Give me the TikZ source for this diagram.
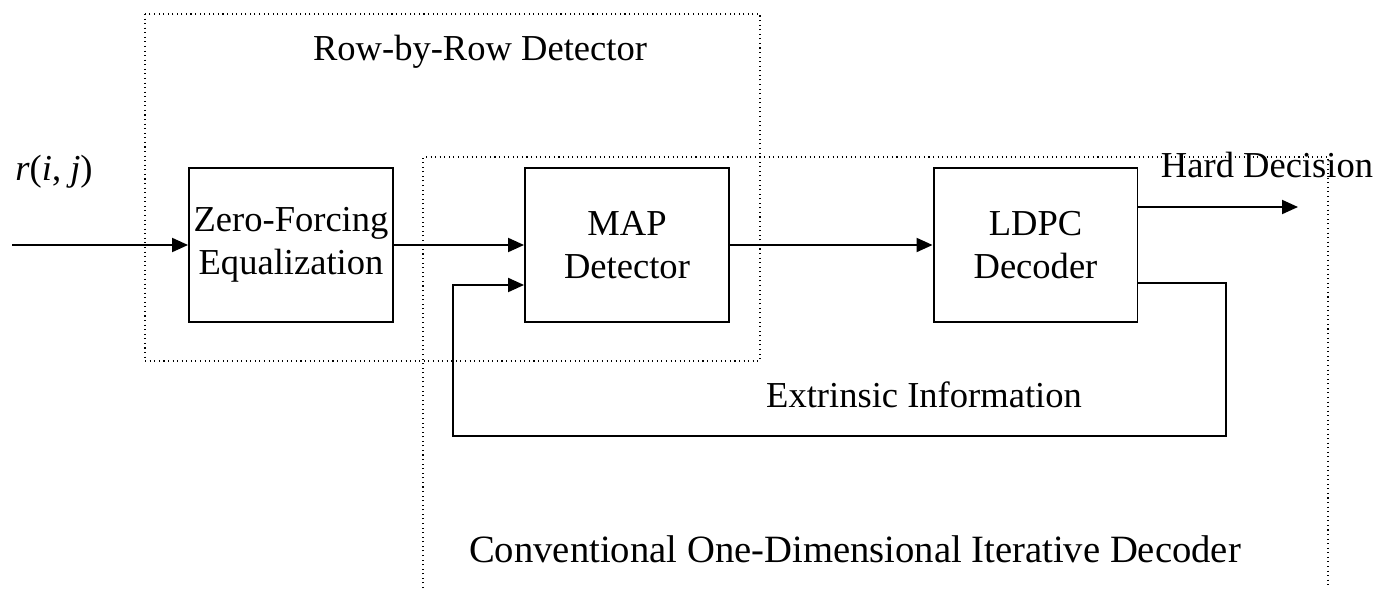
\documentclass[tikz,border=0pt]{standalone}
\usepackage{fontspec}
\setmainfont{Liberation Serif}
\usetikzlibrary{arrows.meta}
\tikzset{
    block/.style = {draw, line width = 1.1pt, minimum width = 4.08cm, minimum height = 3.08cm, align = center, inner sep = 0pt},
    link/.style = {line width = 1.1pt, -{Triangle[length = 0.32cm, width = 0.28cm]}},
    group/.style = {dotted, line width = 0.6pt}
}
\begin{document}
\begin{tikzpicture}[x = 0.02cm, y = -0.02cm, font = \fontsize{20.8}{24.5}\selectfont]
        \useasboundingbox (0, 0) rectangle (1378, 588);
        % detector groups
        \draw [group] (145, 14) rectangle (760, 361);
        \draw [group] (423, 588) -- (423, 157) -- (1328, 157) -- (1328, 588);
        \node (rowlabel) at (480, 52) {Row-by-Row Detector};
        \node [font = \fontsize{22}{26}\selectfont] (convlabel) at (855, 549) {Conventional One-Dimensional Iterative Decoder};
        % blocks
        \node [block] (zf) at (291, 245) {Zero-Forcing\\Equalization};
        \node [block] (map) at (627, 245) {MAP\\Detector};
        \node [block] (ldpc) at (1035.5, 245) {LDPC\\Decoder};
        % signals
        \coordinate (in) at (12, 245);
        \coordinate (out) at (1298, 207);
        \coordinate (fbright) at (1226, 283);
        \coordinate (fbleft) at (453, 436);
        \node (input) at (54, 172) {\textit{r}(\textit{i}, \textit{j})};
        \node (hard) at (1267, 165) {Hard Decision};
        \node (extr) at (924, 395) {Extrinsic Information};
        \draw [link] (in) -- (zf);
        \draw [link] (zf) -- (map);
        \draw [link] (map) -- (ldpc);
        \draw [link] (ldpc.east |- out) -- (out);
        \draw [link] (ldpc.east |- fbright) -- (fbright) |- (fbleft) |- ([yshift = -0.8cm]map.west);
\end{tikzpicture}
\end{document}
